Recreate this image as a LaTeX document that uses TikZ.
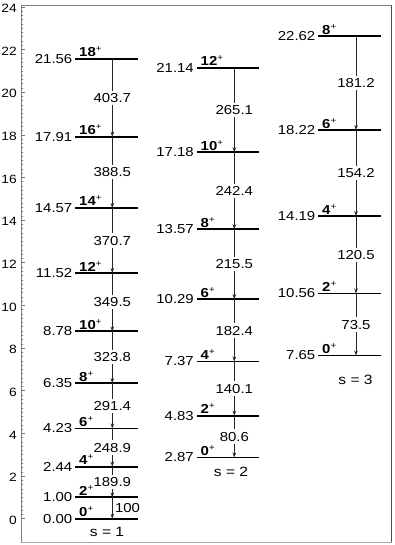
\documentclass[tikz,border=0pt]{standalone}
\usepackage{fontspec}
\setmainfont{Liberation Sans}[FakeStretch=1.15]
\usetikzlibrary{arrows.meta,calc}
\tikzset{
  levelline/.style={line width=1.9pt,black},
  trans/.style={draw=black!85,line width=0.8pt,-{Stealth[length=5pt,width=3.6pt]}},
  elab/.style={anchor=east,inner sep=0pt,font=\fontsize{13}{14}\selectfont},
  jlab/.style={anchor=base west,inner sep=0pt,font=\fontsize{13}{14}\selectfont\bfseries},
  tlab/.style={fill=white,inner xsep=1pt,inner ysep=2.5pt,text height=9.3pt,text depth=0pt,font=\fontsize{13}{14}\selectfont},
  slab/.style={inner sep=0pt,font=\fontsize{13.5}{15}\selectfont},
  axlab/.style={anchor=east,inner sep=0pt,font=\fontsize{12}{13}\selectfont},
  tickline/.style={draw=black!55,line width=0.5pt}
}
\newcommand{\spn}[1]{#1\raisebox{5pt}{\normalfont\fontsize{8.5}{8.5}\selectfont +}}
\begin{document}
\begin{tikzpicture}[x=1pt,y=21.33pt]
\useasboundingbox (0,-1.2330) rectangle (394,24.3179);
% frame
\coordinate (fTL) at (21,24.06);
\coordinate (fTR) at (391.5,24.06);
\coordinate (fBL) at (21,-1.116);
\coordinate (fBR) at (391.5,-1.116);
\draw[black!50,line width=0.8pt] (fBL) -- (fTL) -- (fTR);
\draw[black!70,line width=1.8pt] (fTR) -- (fBR);
\draw[black!35,line width=0.9pt] (fBL) -- (fBR);
% ticks
\foreach \k in {0,...,120} \draw[tickline] (21,{\k*0.2}) -- ++(2.3,0);
\foreach \k in {0,2,...,24} {
  \draw[tickline] (21,\k) -- ++(4,0);
  \node[axlab] (ax\k) at (17,{\k-0.08}) {\k};
}
% column 1
\foreach \i/\e/\j in {0/0.00/0,1/1.00/2,2/2.44/4,3/4.23/6,4/6.35/8,5/8.78/10,6/11.52/12,7/14.57/14,8/17.91/16,9/21.56/18} {
  \coordinate (aL\i) at (75,\e);
  \coordinate (aR\i) at (138,\e);
  \coordinate (aA\i) at (112.3,\e);
  \draw[levelline] (aL\i) -- (aR\i);
  \node[elab] (aE\i) at (72.5,\e) {\e};
  \node[jlab] (aJ\i) at (79,{\e+0.09}) {\spn{\j}};
}
\foreach \u/\l/\t in {2/1/189.9,3/2/248.9,4/3/291.4,5/4/323.8,6/5/349.5,7/6/370.7,8/7/388.5,9/8/403.7} {
  \draw[trans] (aA\u) -- (aA\l);
  \node[tlab] (aT\u) at ($(aA\u)!0.5!(aA\l)$) {\t};
}
\draw[trans] (aA1) -- (aA0);
\node[tlab,fill=none,anchor=west] (aT1) at ($(aA1)!0.5!(aA0)+(1.5,0)$) {100};
\node[slab] (s1) at (107,-0.61) {s = 1};
% column 2
\foreach \i/\e/\j in {0/2.87/0,1/4.83/2,2/7.37/4,3/10.29/6,4/13.57/8,5/17.18/10,6/21.14/12} {
  \coordinate (bL\i) at (196.7,\e);
  \coordinate (bR\i) at (259,\e);
  \coordinate (bA\i) at (234.3,\e);
  \draw[levelline] (bL\i) -- (bR\i);
  \node[elab] (bE\i) at (194,\e) {\e};
  \node[jlab] (bJ\i) at (200.5,{\e+0.09}) {\spn{\j}};
}
\foreach \u/\l/\t in {1/0/80.6,2/1/140.1,3/2/182.4,4/3/215.5,5/4/242.4,6/5/265.1} {
  \draw[trans] (bA\u) -- (bA\l);
  \node[tlab] (bT\u) at ($(bA\u)!0.5!(bA\l)$) {\t};
}
\node[slab] (s2) at (231,2.20) {s = 2};
% column 3
\foreach \i/\e/\j in {0/7.65/0,1/10.56/2,2/14.19/4,3/18.22/6,4/22.62/8} {
  \coordinate (cL\i) at (318.3,\e);
  \coordinate (cR\i) at (380.7,\e);
  \coordinate (cA\i) at (356,\e);
  \draw[levelline] (cL\i) -- (cR\i);
  \node[elab] (cE\i) at (315.5,\e) {\e};
  \node[jlab] (cJ\i) at (322,{\e+0.09}) {\spn{\j}};
}
\foreach \u/\l/\t in {1/0/73.5,2/1/120.5,3/2/154.2,4/3/181.2} {
  \draw[trans] (cA\u) -- (cA\l);
  \node[tlab] (cT\u) at ($(cA\u)!0.5!(cA\l)$) {\t};
}
\node[slab] (s3) at (355.5,6.50) {s = 3};
\end{tikzpicture}
\end{document}
